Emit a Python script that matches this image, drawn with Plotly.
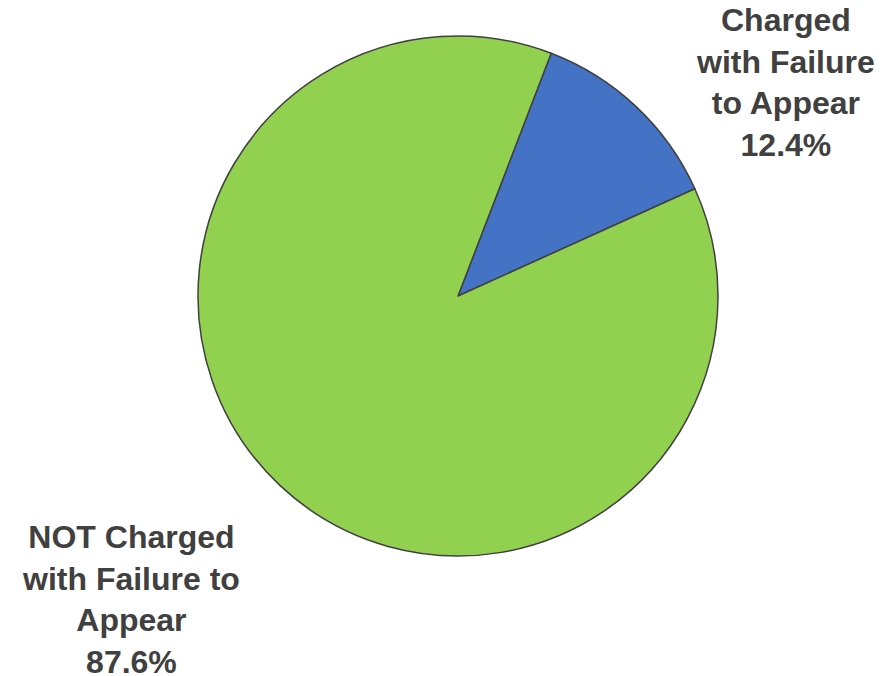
import plotly.graph_objects as go

labels = ["Charged<br>with Failure<br>to Appear", "NOT Charged<br>with Failure to<br>Appear"]
values = [12.4, 87.6]
colors = ["#4472C4", "#92D050"]

W, H = 884, 676
cx, cy, r = 450, 288, 260

fig = go.Figure(go.Pie(
    labels=labels,
    values=values,
    sort=False,
    direction="clockwise",
    rotation=21,
    marker=dict(colors=colors, line=dict(color="#404040", width=1.5)),
    textinfo="none",
    hoverinfo="label+percent",
    domain=dict(x=[(cx - r) / W, (cx + r) / W], y=[1 - (cy + r) / H, 1 - (cy - r) / H]),
    showlegend=False,
))

label_pos = [(777, 74), (123, 591)]
for lab, val, (ax, ay) in zip(labels, values, label_pos):
    fig.add_annotation(
        x=ax / W, y=1 - ay / H, xref="paper", yref="paper",
        text=f"<b>{lab}<br>{val:.1f}%</b>", showarrow=False,
        align="center", xanchor="center", yanchor="middle",
        font=dict(family="Liberation Sans, Arial, sans-serif", size=32, color="#404040"),
    )

fig.update_layout(
    width=W, height=H,
    margin=dict(l=0, r=0, t=0, b=0),
    paper_bgcolor="white", plot_bgcolor="white",
)
fig.write_html("out.html")
